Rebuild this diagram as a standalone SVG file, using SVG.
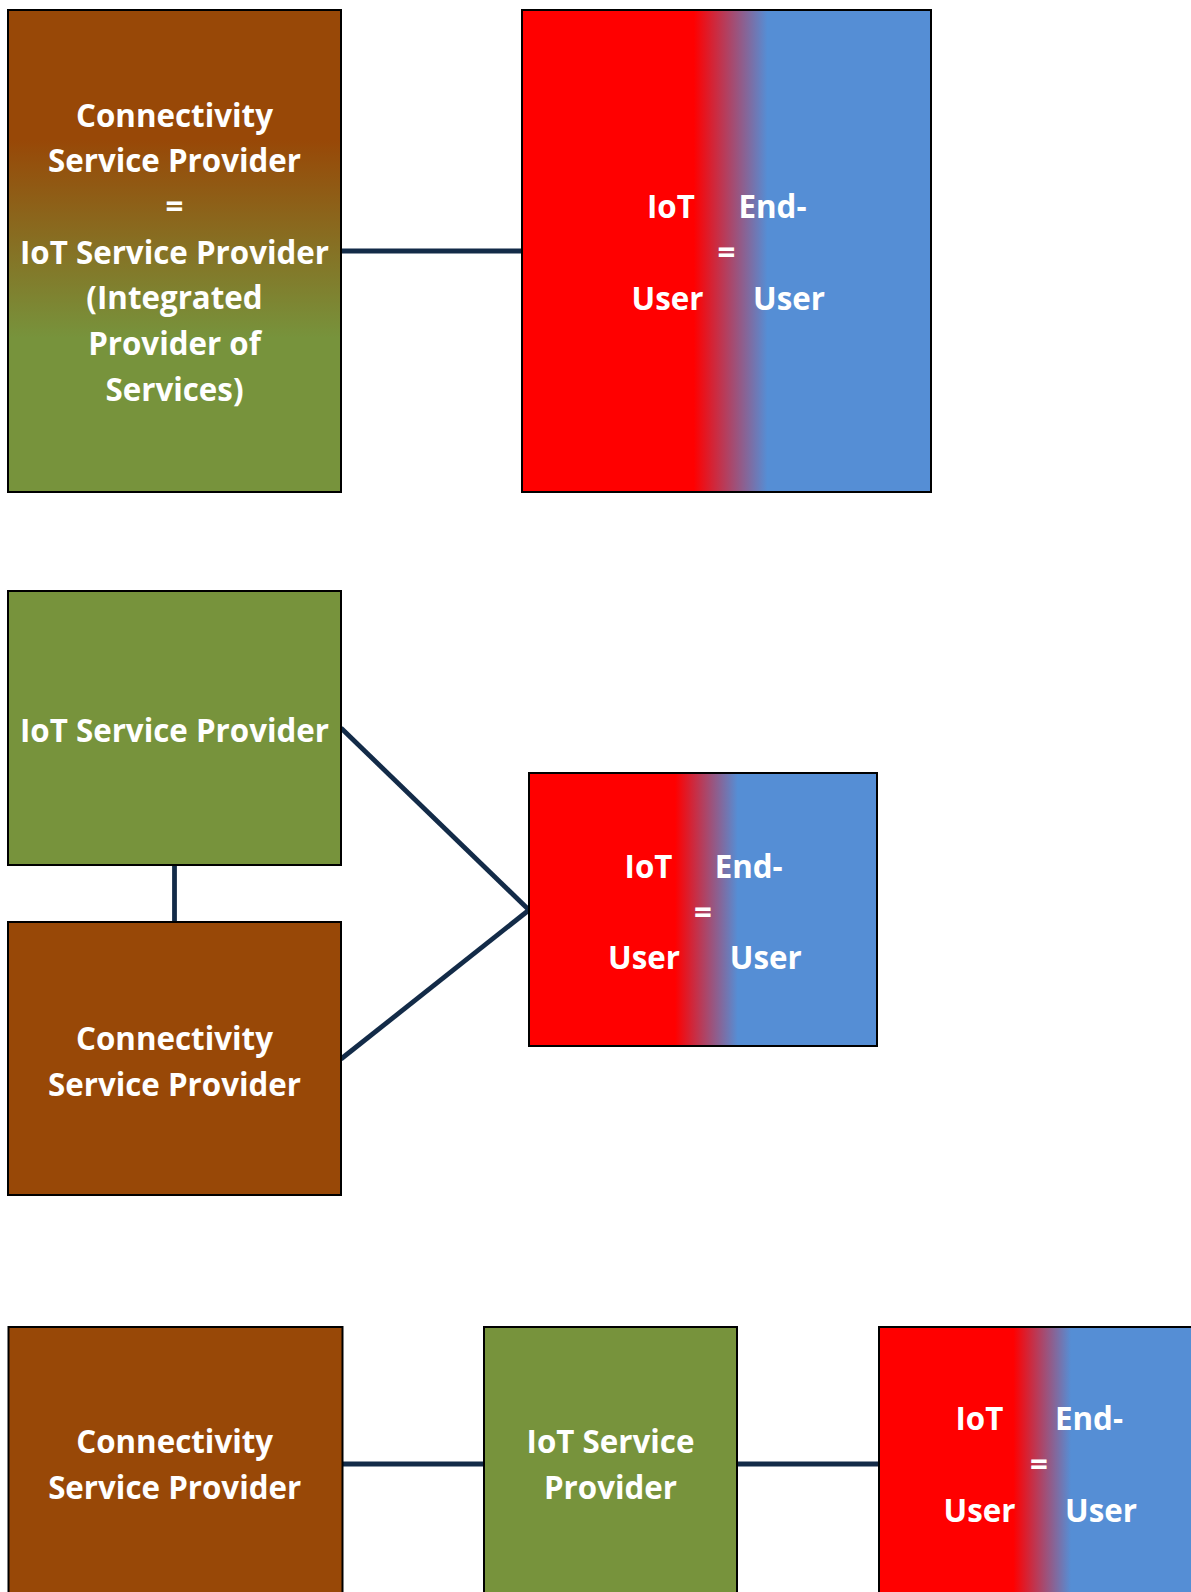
<svg xmlns="http://www.w3.org/2000/svg" width="1191" height="1592" viewBox="0 0 1191 1592">
<defs>
<linearGradient id="gBrownGreen" x1="0" y1="0" x2="0" y2="1">
<stop offset="0.27" stop-color="#984807"/>
<stop offset="0.68" stop-color="#77933C"/>
</linearGradient>
<linearGradient id="gRedBlue" x1="0" y1="0" x2="1" y2="0">
<stop offset="0.42" stop-color="#FF0000"/>
<stop offset="0.6" stop-color="#558ED5"/>
</linearGradient>
</defs>
<style>
.box{stroke:#000;stroke-width:2}
.brown{fill:#984807}
.green{fill:#77933C}
.rb{fill:url(#gRedBlue)}
.bg{fill:url(#gBrownGreen)}
.t{font-family:"Open Sans","Liberation Sans",sans-serif;font-weight:700;font-size:31.3px;fill:#fff}
.c{text-anchor:middle}
.conn{stroke:#132B48;stroke-width:4.8;fill:none}
</style>
<rect width="1191" height="1592" fill="#fff"/>

<g id="connectors">
<line class="conn" x1="341" y1="251" x2="522" y2="251"/>
<line class="conn" x1="341" y1="728" x2="529" y2="910"/>
<line class="conn" x1="341" y1="1059" x2="529" y2="910"/>
<line class="conn" x1="174.5" y1="866" x2="174.5" y2="922"/>
<line class="conn" x1="342" y1="1464" x2="484" y2="1464"/>
<line class="conn" x1="737" y1="1464" x2="879" y2="1464"/>
</g>

<g id="n1-integrated">
<rect class="box bg" x="8" y="10" width="333" height="482"/>
<text class="t c" x="174.5" y="126.6">Connectivity</text>
<text class="t c" x="174.5" y="172.3">Service Provider</text>
<text class="t c" x="174.5" y="218">=</text>
<text class="t c" x="174.5" y="263.7">IoT Service Provider</text>
<text class="t c" x="174.5" y="309.4">(Integrated</text>
<text class="t c" x="174.5" y="355.1">Provider of</text>
<text class="t c" x="174.5" y="400.8">Services)</text>
</g>

<g id="n2-user-top">
<rect class="box rb" x="522" y="10" width="409" height="482"/>
<text class="t" x="647" y="218.3">IoT</text>
<text class="t" x="738.5" y="218.3">End-</text>
<text class="t c" x="726.5" y="264">=</text>
<text class="t" x="631.5" y="309.7">User</text>
<text class="t" x="753" y="309.7">User</text>
</g>

<g id="n3-iot-mid">
<rect class="box green" x="8" y="591" width="333" height="274"/>
<text class="t c" x="174.5" y="741.5">IoT Service Provider</text>
</g>

<g id="n4-conn-mid">
<rect class="box brown" x="8" y="922" width="333" height="273"/>
<text class="t c" x="174.5" y="1050.2">Connectivity</text>
<text class="t c" x="174.5" y="1095.9">Service Provider</text>
</g>

<g id="n5-user-mid">
<rect class="box rb" x="529" y="773" width="348" height="273"/>
<text class="t" x="624.6" y="878">IoT</text>
<text class="t" x="714.7" y="878">End-</text>
<text class="t c" x="703" y="923.5">=</text>
<text class="t" x="608" y="969">User</text>
<text class="t" x="729.8" y="969">User</text>
</g>

<g id="n6-conn-bottom">
<rect class="box brown" x="8.5" y="1327" width="334" height="274"/>
<text class="t c" x="174.7" y="1453.3">Connectivity</text>
<text class="t c" x="174.7" y="1499">Service Provider</text>
</g>

<g id="n7-iot-bottom">
<rect class="box green" x="484" y="1327" width="253" height="274"/>
<text class="t c" x="610.5" y="1453.3">IoT Service</text>
<text class="t c" x="610.5" y="1499">Provider</text>
</g>

<g id="n8-user-bottom">
<rect class="box rb" x="879" y="1327" width="320" height="274"/>
<text class="t" x="955.5" y="1430">IoT</text>
<text class="t" x="1055" y="1430">End-</text>
<text class="t c" x="1039" y="1475.8">=</text>
<text class="t" x="943.5" y="1521.7">User</text>
<text class="t" x="1065" y="1521.7">User</text>
</g>
</svg>
